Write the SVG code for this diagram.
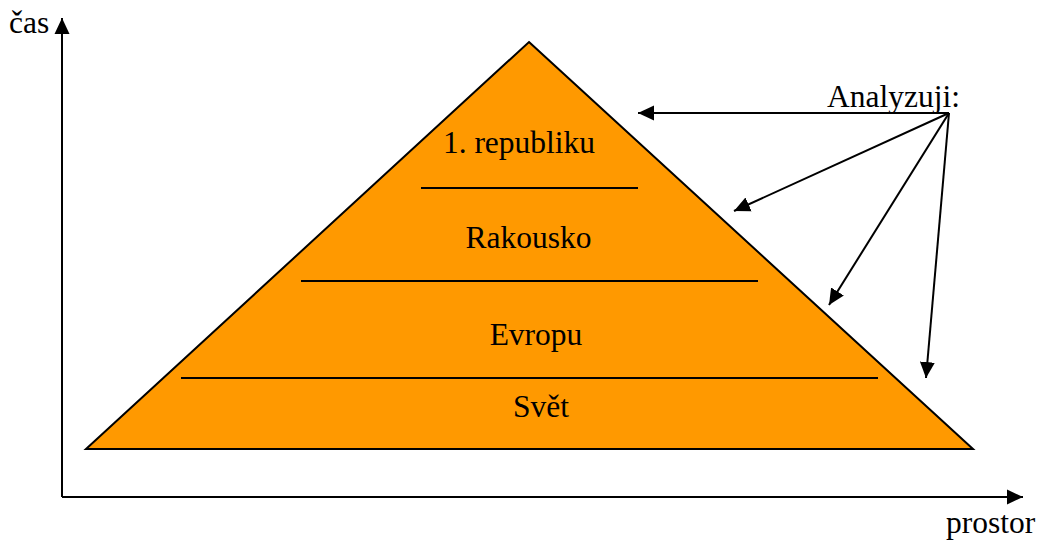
<svg xmlns="http://www.w3.org/2000/svg" width="1039" height="542" viewBox="0 0 1039 542">
<defs>
<marker id="ah" viewBox="0 0 16 16" refX="16" refY="8" markerWidth="16" markerHeight="16" markerUnits="userSpaceOnUse" orient="auto"><path d="M0,0.5 L16,8 L0,15.5 z" fill="#000"/></marker>
<style>
.ln{stroke:#000;stroke-width:2;fill:none}
</style>
</defs>
<rect width="1039" height="542" fill="#fff"/>
<g font-family="Liberation Serif, Times New Roman, serif" font-size="31.5" fill="#000">
<g id="axes">
<line class="ln" x1="62" y1="497" x2="62" y2="18" marker-end="url(#ah)"/>
<line class="ln" x1="62" y1="497" x2="1023" y2="497" marker-end="url(#ah)"/>
<text x="9" y="33">čas</text>
<text x="946" y="533">prostor</text>
</g>
<g id="pyramid">
<polygon points="529,42 973,449 86,449" fill="#FF9900" stroke="#000" stroke-width="2"/>
<line class="ln" x1="421" y1="188" x2="638" y2="188"/>
<line class="ln" x1="301" y1="281" x2="758" y2="281"/>
<line class="ln" x1="181" y1="378" x2="878" y2="378"/>
</g>
<g id="label-republika"><text x="519" y="153" text-anchor="middle">1. republiku</text></g>
<g id="label-rakousko"><text x="528.5" y="248" text-anchor="middle">Rakousko</text></g>
<g id="label-evropu"><text x="536" y="345" text-anchor="middle">Evropu</text></g>
<g id="label-svet"><text x="541" y="417" text-anchor="middle">Svět</text></g>
<g id="label-analyzuji"><text x="827" y="107">Analyzuji:</text></g>
<g id="connectors">
<line class="ln" x1="949" y1="113" x2="638" y2="113" marker-end="url(#ah)"/>
<line class="ln" x1="949" y1="113" x2="734" y2="211" marker-end="url(#ah)"/>
<line class="ln" x1="949" y1="113" x2="829" y2="305" marker-end="url(#ah)"/>
<line class="ln" x1="949" y1="113" x2="926" y2="378" marker-end="url(#ah)"/>
</g>
</g>
</svg>
